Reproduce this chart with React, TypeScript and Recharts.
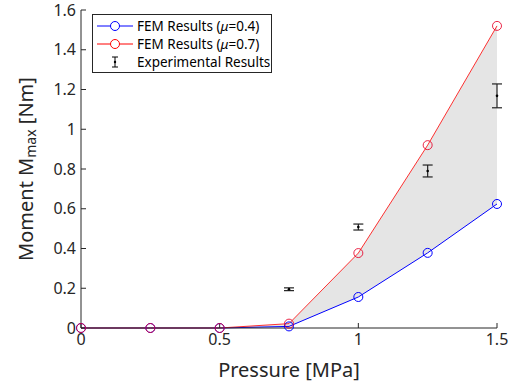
import React from "react";
import {
  ComposedChart,
  Line,
  Area,
  Scatter,
  ErrorBar,
  XAxis,
  YAxis,
} from "recharts";

const pressure = [0, 0.25, 0.5, 0.75, 1.0, 1.25, 1.5];
const femMu04 = [0, 0, 0, 0.008, 0.156, 0.378, 0.624];
const femMu07 = [0, 0, 0, 0.022, 0.377, 0.92, 1.52];
const expPressure = [0.75, 1.0, 1.25, 1.5];
const expMoment = [0.195, 0.508, 0.79, 1.168];
const expError = [0.007, 0.015, 0.03, 0.06];
const xTicks = [0, 0.5, 1, 1.5];
const yTicks = [0, 0.2, 0.4, 0.6, 0.8, 1, 1.2, 1.4, 1.6];

const femData = pressure.map((p, i) => ({
  p,
  low: femMu04[i],
  high: femMu07[i],
  band: [femMu04[i], femMu07[i]],
}));
const expData = expPressure.map((p, i) => ({
  p,
  m: expMoment[i],
  err: expError[i],
}));

const FONT = "'Noto Sans', sans-serif";
const TXT = "#262626";

const OpenCircle = (color: string) => (props: any) => {
  const { cx, cy, index } = props;
  if (cx == null || cy == null) return null;
  return <circle key={index} cx={cx} cy={cy} r={4.5} fill="none" stroke={color} strokeWidth={1} />;
};

const Dot = (props: any) => {
  const { cx, cy } = props;
  if (cx == null || cy == null) return null;
  return <circle cx={cx} cy={cy} r={1.3} fill="#000" />;
};

const LegendBox = () => (
  <div
    style={{
      position: "absolute",
      left: 92,
      top: 14,
      border: "1px solid #262626",
      background: "#fff",
      width: 178,
      height: 57,
      fontFamily: FONT,
      fontSize: 13.5,
      color: "#000",
      boxSizing: "content-box",
      lineHeight: "18px",
      whiteSpace: "nowrap",
    }}
  >
    {[
      { c: "#0000ff", t: "0.4" },
      { c: "#ff0000", t: "0.7" },
    ].map((r, i) => (
      <div key={i} style={{ display: "flex", alignItems: "center", height: 18, marginTop: i === 0 ? 2 : 0 }}>
        <svg width={44} height={18} style={{ display: "block", flex: "none" }}>
          <line x1={4} y1={9} x2={40} y2={9} stroke={r.c} strokeWidth={1} />
          <circle cx={22} cy={9} r={4.5} fill="#fff" stroke={r.c} strokeWidth={1} />
        </svg>
        <span>
          FEM Results (<i>μ</i>={r.t})
        </span>
      </div>
    ))}
    <div style={{ display: "flex", alignItems: "center", height: 18 }}>
      <svg width={44} height={18} style={{ display: "block", flex: "none" }}>
        <line x1={22} y1={4} x2={22} y2={14} stroke="#000" strokeWidth={1} />
        <line x1={19} y1={4} x2={25} y2={4} stroke="#000" strokeWidth={1} />
        <line x1={19} y1={14} x2={25} y2={14} stroke="#000" strokeWidth={1} />
        <circle cx={22} cy={9} r={1.2} fill="#000" />
      </svg>
      <span>Experimental Results</span>
    </div>
  </div>
);

export default function App() {
  return (
    <div style={{ position: "absolute", left: 0, top: 0, width: 516, height: 386, background: "#fff" }}>
      <ComposedChart
        width={516}
        height={386}
        margin={{ top: 10, right: 19, bottom: 0, left: 0 }}
        style={{ fontFamily: FONT }}
      >
        <XAxis
          dataKey="p"
          type="number"
          domain={[0, 1.5]}
          ticks={xTicks}
          height={58}
          tickSize={-5}
          tickMargin={11}
          stroke={TXT}
          tick={{ fill: TXT, fontSize: 16, fontFamily: FONT }}
          label={{
            value: "Pressure [MPa]",
            position: "insideBottom",
            offset: 9,
            fill: TXT,
            fontSize: 20,
            fontFamily: FONT,
          }}
        />
        <YAxis
          type="number"
          domain={[0, 1.6]}
          ticks={yTicks}
          width={81}
          tickSize={-5}
          tickMargin={10}
          stroke={TXT}
          tick={{ fill: TXT, fontSize: 16, fontFamily: FONT }}
          label={(props: any) => {
            const vb = props.viewBox || {};
            const cx = 25;
            const cy = (vb.y ?? 10) + (vb.height ?? 318) / 2;
            return (
              <text
                x={cx}
                y={cy}
                transform={`rotate(-90 ${cx} ${cy})`}
                textAnchor="middle"
                dominantBaseline="central"
                fill={TXT}
                fontSize={20}
                fontFamily={FONT}
              >
                Moment M
                <tspan fontSize={14} dy={5}>max</tspan>
                <tspan dy={-5}>{"  [Nm]"}</tspan>
              </text>
            );
          }}
        />
        <Area
          data={femData}
          dataKey="band"
          type="linear"
          stroke="none"
          fill="#e5e5e5"
          fillOpacity={1}
          isAnimationActive={false}
          legendType="none"
        />
        <Line
          data={femData}
          dataKey="low"
          type="linear"
          stroke="#0000ff"
          strokeWidth={1}
          dot={OpenCircle("#0000ff")}
          activeDot={false}
          isAnimationActive={false}
        />
        <Line
          data={femData}
          dataKey="high"
          type="linear"
          stroke="#ff0000"
          strokeOpacity={0.8}
          strokeWidth={1}
          dot={OpenCircle("rgba(230,0,40,0.85)")}
          activeDot={false}
          isAnimationActive={false}
        />
        <Scatter data={expData} dataKey="m" shape={Dot} isAnimationActive={false}>
          <ErrorBar dataKey="err" direction="y" width={5} stroke="#222" strokeWidth={1.2} />
        </Scatter>
      </ComposedChart>
      <LegendBox />
    </div>
  );
}
